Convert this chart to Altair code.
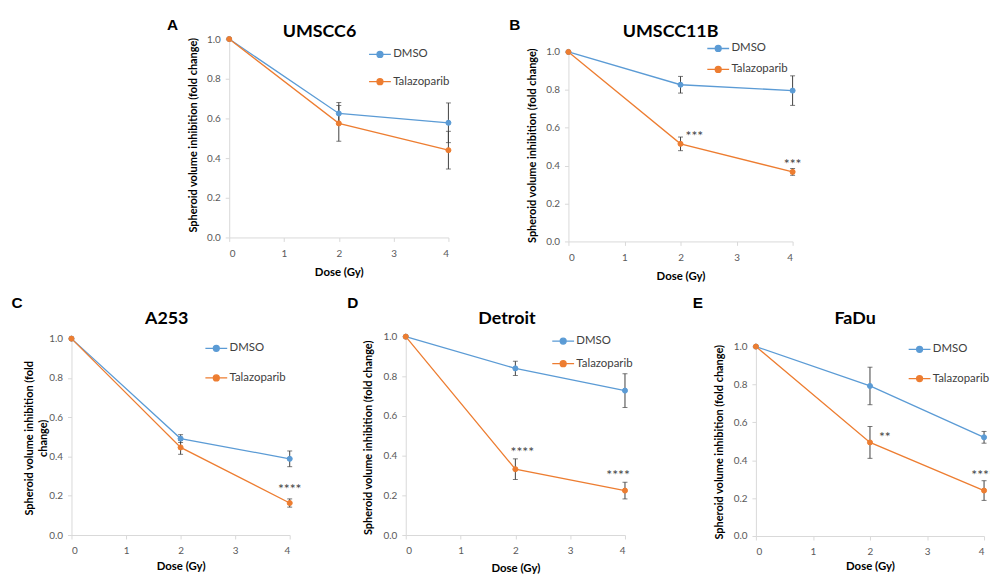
import altair as alt
import pandas as pd

# ---------------- data ----------------
dose = [0, 2, 4]
series_names = ["DMSO", "Talazoparib"]
series_colors = ["#5B9BD5", "#ED7D31"]

panel_letters = ["A", "B", "C", "D", "E"]
panel_names = ["UMSCC6", "UMSCC11B", "A253", "Detroit", "FaDu"]

y_title_one = "Spheroid volume inhibition (fold change)"
y_title_two = ["Spheroid volume inhibition (fold", "change)"]
x_title = "Dose (Gy)"
y_ticks = [0.0, 0.2, 0.4, 0.6, 0.8, 1.0]
x_ticks = [0, 1, 2, 3, 4]

dmso_A = [1.0, 0.625, 0.578]
dmso_err_A = [0.0, 0.055, 0.100]
tal_A = [1.0, 0.575, 0.440]
tal_err_A = [0.0, 0.090, 0.095]

dmso_B = [1.0, 0.827, 0.796]
dmso_err_B = [0.0, 0.044, 0.078]
tal_B = [1.0, 0.515, 0.367]
tal_err_B = [0.0, 0.036, 0.018]

dmso_C = [1.0, 0.491, 0.388]
dmso_err_C = [0.0, 0.020, 0.040]
tal_C = [1.0, 0.446, 0.163]
tal_err_C = [0.0, 0.035, 0.021]

dmso_D = [1.0, 0.840, 0.728]
dmso_err_D = [0.0, 0.036, 0.085]
tal_D = [1.0, 0.332, 0.224]
tal_err_D = [0.0, 0.052, 0.042]

dmso_E = [1.0, 0.792, 0.521]
dmso_err_E = [0.0, 0.099, 0.031]
tal_E = [1.0, 0.494, 0.240]
tal_err_E = [0.0, 0.084, 0.052]

# significance annotations: (dose, height, label)
ann_A = []
ann_B = [(2, 0.571, "***"), (4, 0.423, "***")]
ann_C = [(4, 0.250, "****")]
ann_D = [(2, 0.435, "****"), (4, 0.318, "****")]
ann_E = [(2, 0.538, "**"), (4, 0.337, "****")]

# ---------------- style / layout ----------------
FONT = "Lato"
AX_COL = "#d9d9d9"
LBL_COL = "#595959"
ERR_COL = "#404040"
LEG_PATH = "M-2.2,0L2.2,0M0.6,0A0.6,0.6,0,1,1,-0.6,0A0.6,0.6,0,1,1,0.6,0Z"

# x0: left of plot inside its grid cell; w: cell width; pw: plot width
layout = {
    "A": dict(x0=159, w=337, pw=221, h=200, top=0, title=(91, -2), letter=(-57, -9),
              leg=(146, 9.5, 15.5), ytitle=(-36, 96.5), ytext=y_title_one, xty=35, ann_dx=[]),
    "B": dict(x0=164, w=353, pw=226, h=204, top=13, title=(103, -2), letter=(-54, -9),
              leg=(145, 3.5, 9.1), ytitle=(-36, 107), ytext=y_title_one, xty=35, ann_dx=[14, 0]),
    "C": dict(x0=0, w=337, pw=220, h=200, top=2, title=(96, -13), letter=(-55, -29),
              leg=(140, 5.8, 17.8), ytitle=(-42, 102), ytext=y_title_two, xty=32, ann_dx=[0]),
    "D": dict(x0=0, w=353, pw=221, h=200, top=0, title=(102, -13), letter=(-53.5, -29),
              leg=(152.7, -1.5, 10.8), ytitle=(-38, 101.5), ytext=y_title_one, xty=34, ann_dx=[7, -7]),
    "E": dict(x0=0, w=230, pw=230, h=201, top=10, title=(100, -13), letter=(-58.5, -29),
              leg=(159, 6.8, 17.5), ytitle=(-37, 106), ytext=y_title_one, xty=31, ann_dx=[15, -1]),
}

panel_data = {
    "A": (dmso_A, dmso_err_A, tal_A, tal_err_A, ann_A),
    "B": (dmso_B, dmso_err_B, tal_B, tal_err_B, ann_B),
    "C": (dmso_C, dmso_err_C, tal_C, tal_err_C, ann_C),
    "D": (dmso_D, dmso_err_D, tal_D, tal_err_D, ann_D),
    "E": (dmso_E, dmso_err_E, tal_E, tal_err_E, ann_E),
}


def make_panel(letter, name):
    dm, dm_e, tl, tl_e, ann = panel_data[letter]
    L = layout[letter]
    x0 = L["x0"]
    rows = []
    for s, vals, errs in ((series_names[0], dm, dm_e), (series_names[1], tl, tl_e)):
        for d, v, e in zip(dose, vals, errs):
            rows.append(dict(dose=d, series=s, value=v, err=e, lo=v - e, hi=v + e))
    df = pd.DataFrame(rows)
    df_err = df[df["err"] > 0]

    xs = alt.Scale(domain=[0, 4], nice=False, range=[x0, x0 + L["pw"]])
    ys = alt.Scale(domain=[0, 1], nice=False, range=[L["h"], L["top"]])
    x_axis = alt.Axis(values=x_ticks, format="d", title=x_title, titleY=L["xty"],
                      titleBaseline="middle", labelPadding=7)
    y_axis = alt.Axis(values=y_ticks, format=".1f", title=L["ytext"], titleX=L["ytitle"][0],
                      titleY=L["ytitle"][1], titleBaseline="middle", titleAngle=270,
                      titleLineHeight=14.3, titleFontSize=11, offset=-x0)
    X = alt.X("dose:Q", scale=xs, axis=x_axis)
    Y = alt.Y("value:Q", scale=ys, axis=y_axis)

    lx, ly, rp = L["leg"]
    leg = alt.Legend(title=None, orient="none", legendX=lx + x0, legendY=ly, symbolType=LEG_PATH,
                     symbolSize=100, symbolStrokeWidth=1.3, symbolOpacity=1, labelOffset=7.3,
                     labelFont=FONT, labelFontSize=11.5, labelColor="#404040", rowPadding=rp,
                     padding=0)
    cscale = alt.Scale(domain=series_names, range=series_colors)

    rules = alt.Chart(df_err).mark_rule(color=ERR_COL, strokeWidth=1).encode(
        x=X, y=alt.Y("lo:Q", scale=ys, axis=y_axis), y2="hi:Q")
    caps_lo = alt.Chart(df_err).mark_tick(color=ERR_COL, orient="horizontal", size=5,
                                          thickness=1).encode(x=X, y=alt.Y("lo:Q", scale=ys, axis=y_axis))
    caps_hi = alt.Chart(df_err).mark_tick(color=ERR_COL, orient="horizontal", size=5,
                                          thickness=1).encode(x=X, y=alt.Y("hi:Q", scale=ys, axis=y_axis))
    layers = [rules, caps_lo, caps_hi]
    for s, c in zip(series_names, series_colors):
        layers.append(alt.Chart(df).transform_filter(alt.datum.series == s).mark_line(
            strokeWidth=1.3, color=c).encode(x=X, y=Y))
    points = alt.Chart(df).mark_point(filled=True, size=26, strokeWidth=1, opacity=1).encode(
        x=X, y=Y,
        fill=alt.Fill("series:N", scale=cscale, legend=leg),
        stroke=alt.Stroke("series:N", scale=cscale, legend=leg))
    layers.append(points)

    for (d, v, lab), dx in zip(ann, L["ann_dx"]):
        adf = pd.DataFrame([dict(dose=d, value=v, lab=lab)])
        layers.append(alt.Chart(adf).mark_text(font=FONT, fontSize=14, color="#404040",
                                               baseline="middle", dx=dx, dy=4).encode(
            x=X, y=Y, text="lab:N"))

    tdf = pd.DataFrame([dict(name=name, letter=letter)])
    layers.append(alt.Chart(tdf).mark_text(font=FONT, fontSize=18, fontWeight="bold",
                                           color="#000000", align="center",
                                           baseline="alphabetic").encode(
        text="name:N", x=alt.value(L["title"][0] + x0), y=alt.value(L["title"][1])))
    layers.append(alt.Chart(tdf).mark_text(font="Liberation Sans", fontSize=15.5, fontWeight="bold",
                                           color="#000000", align="center",
                                           baseline="alphabetic").encode(
        text="letter:N", x=alt.value(L["letter"][0] + x0), y=alt.value(L["letter"][1])))

    return alt.layer(*layers).properties(width=L["w"], height=L["h"])


def spacer(w):
    return alt.Chart(pd.DataFrame({"a": [0]})).mark_point(opacity=0).encode(
        x=alt.value(0), y=alt.value(0)).properties(width=w, height=1)


pA, pB, pC, pD, pE = [make_panel(l, n) for l, n in zip(panel_letters, panel_names)]

chart = alt.concat(
    pA, pB, spacer(1),
    pC, pD, pE,
    columns=3,
    spacing={"row": 96, "column": 0},
    bounds="flush",
).resolve_scale(
    fill="independent", stroke="independent", x="independent", y="independent"
).resolve_legend(
    fill="independent", stroke="independent"
).properties(
    autosize=alt.AutoSizeParams(type="none"),
    padding={"left": 64, "top": 29, "right": 926, "bottom": 541},
    background="white",
).configure_view(stroke=None).configure_axis(
    grid=False, domainColor=AX_COL, tickColor=AX_COL, tickSize=4, domainWidth=1,
    labelColor=LBL_COL, labelFont=FONT, labelFontSize=10, labelPadding=5,
    titleFont=FONT, titleFontWeight="bold", titleColor="#000000", titleFontSize=11.5,
)

chart.save("out.html", embed_options={"renderer": "svg", "actions": False})
